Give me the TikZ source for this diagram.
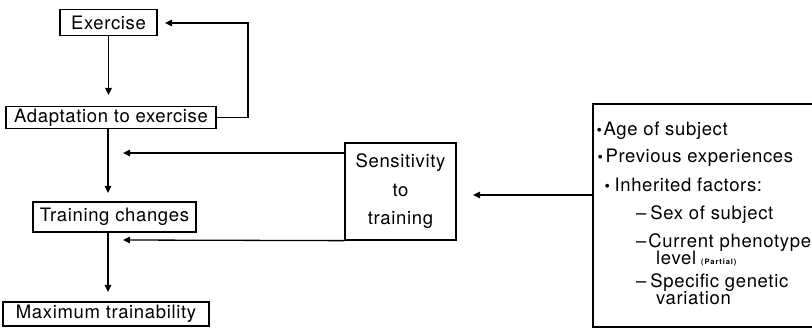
\documentclass[tikz,border=0pt]{standalone}
\usepackage{fontspec}
\setmainfont{TeX Gyre Heros}[LetterSpace=3.5]
\newfontfamily\djv{DejaVu Sans}
\usetikzlibrary{arrows.meta}
\newcommand\mybul{\raisebox{4pt}{\djv\fontsize{5}{5}\selectfont ●}}
\begin{document}
\begin{tikzpicture}[x=1pt,y=-1pt,
  box/.style={draw, line width=1.3pt, inner sep=0pt, align=center, font=\fontsize{18.5}{28.5}\selectfont},
  arr/.style={line width=1.3pt, -{Triangle[length=7pt,width=6.5pt]}},
  txt/.style={anchor=base west, inner sep=0pt, font=\fontsize{18.5}{22}\selectfont}]
\useasboundingbox (0,0) rectangle (812,328);
% boxes
\node[box, minimum width=97pt, minimum height=26pt] (ex) at (108.5,22.5) {Exercise};
\node[box, minimum width=210pt, minimum height=22pt] (ad) at (111,117.5) {Adaptation to exercise};
\node[box, minimum width=163pt, minimum height=30pt] (tc) at (114.5,217) {Training changes};
\node[box, minimum width=206pt, minimum height=24pt] (mt) at (106,314) {Maximum trainability};
\node[box, minimum width=111pt, minimum height=97pt] (se) at (400.5,191.5) {Sensitivity\\to\\training};
\node[box, minimum width=230pt, minimum height=223pt] (fa) at (708,215.5) {};
% text of factor box
\node[txt] (l1) at (597,135.7) {\mybul\hspace{2pt}Age of subject};
\node[txt] (l2) at (598,163) {\mybul\hspace{3pt}Previous experiences};
\node[txt] (l3) at (605,192) {\mybul\hspace{5pt}Inherited factors:};
\node[txt] (l4) at (636,220) {–\hspace{4pt}Sex of subject};
\node[txt] (l5) at (636,248) {–\hspace{2pt}Current phenotype};
\node[txt] (l6) at (656,265) {level\hspace{5pt}{\fontsize{7.5}{8}\selectfont\bfseries\addfontfeature{LetterSpace=12}(Partial)}};
\node[txt] (l7) at (636,288) {–\hspace{4pt}Specific genetic};
\node[txt] (l8) at (656,305) {variation};
% coordinates
\coordinate (t1) at (108.5,95);
\coordinate (t2) at (108,193);
\coordinate (t3) at (108,292);
\coordinate (fb) at (248,23);
\coordinate (t0) at (165,23);
\coordinate (s1) at (123,153);
\coordinate (s2) at (123,240);
\coordinate (s3) at (473,195);
% connectors
\draw[arr] (ex.south) -- (t1);
\draw[arr] (ad.south -| t2) -- (t2);
\draw[arr] (tc.south -| t3) -- (t3);
\draw[arr] (ad.east) -| (fb) -- (t0);
\draw[arr] (s1 -| se.west) -- (s1);
\draw[arr] (se.south west) -- (s2);
\draw[arr] (s3 -| fa.west) -- (s3);
\end{tikzpicture}
\end{document}
